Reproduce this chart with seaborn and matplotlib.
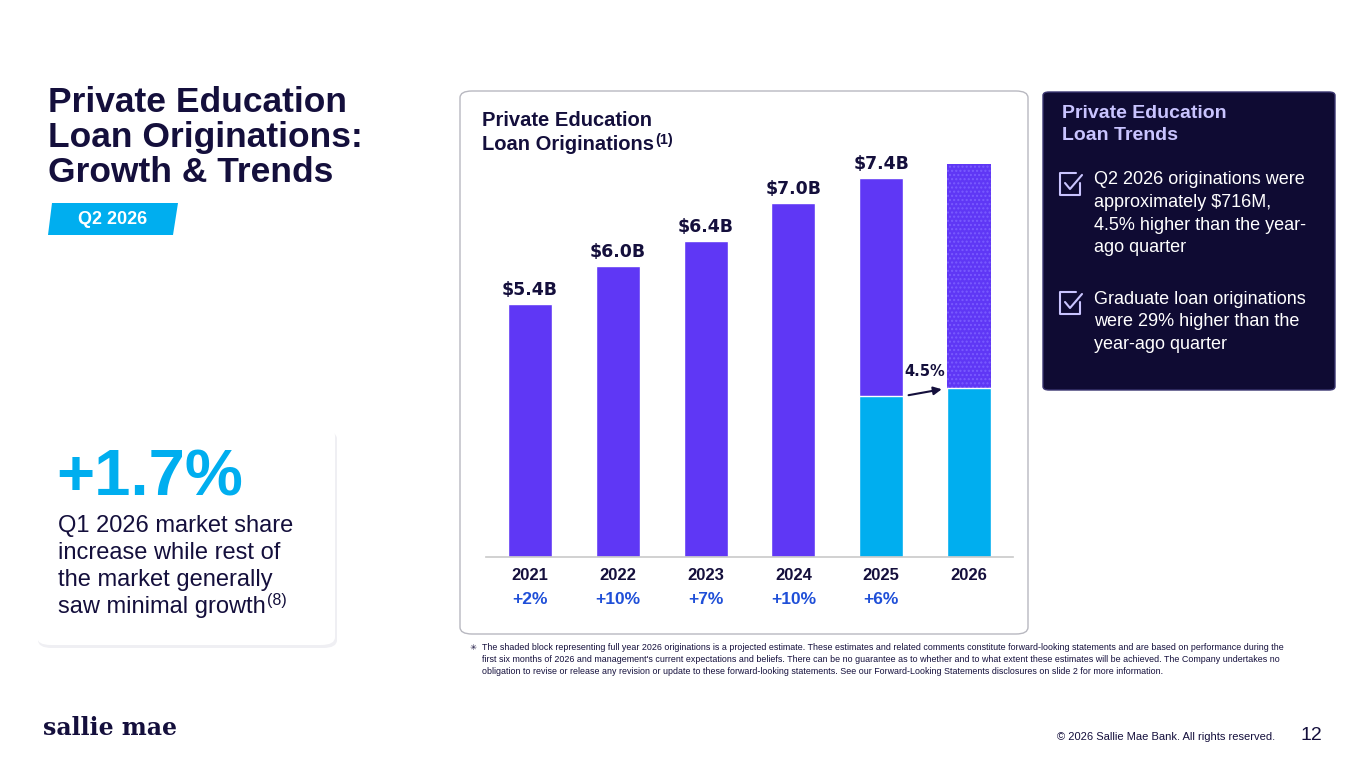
import matplotlib
matplotlib.use("Agg")
import matplotlib.pyplot as plt
from matplotlib.patches import FancyBboxPatch, Polygon
from matplotlib.lines import Line2D
import numpy as np
import pandas as pd
import seaborn as sns

years = ["2021", "2022", "2023", "2024", "2025", "2026"]
totals = [5.4, 6.0, 6.4, 7.0, 7.4, 7.62]
first_half = [np.nan, np.nan, np.nan, np.nan, 3.94, 4.06]
value_labels = ["$5.4B", "$6.0B", "$6.4B", "$7.0B", "$7.4B", ""]
growth_labels = ["+2%", "+10%", "+7%", "+10%", "+6%", ""]

PURPLE = "#5f37f5"
CYAN = "#00aeef"
NAVY = "#140f3c"
BLUE_TXT = "#1f4fd8"

sns.set_theme(style="white")
plt.rcParams["font.family"] = ["Liberation Sans", "DejaVu Sans"]

W, H = 1365, 768
fig = plt.figure(figsize=(W / 100, H / 100), dpi=100)
fig.patch.set_facecolor("white")
renderer = fig.canvas.get_renderer()


def fx(x):
    return x / W


def fy(y):
    return 1 - y / H


def box(x0, y0, x1, y1, fc, ec="none", r=10, z=0, lw=1):
    p = FancyBboxPatch((fx(x0), fy(y1)), fx(x1 - x0), (y1 - y0) / H,
                       boxstyle=f"round,pad=0,rounding_size={r / W}",
                       transform=fig.transFigure, fc=fc, ec=ec, lw=lw, zorder=z)
    fig.add_artist(p)


def lines(x, ycenter, rows, step, sup=None, sup_size=10, **kw):
    # rows of text, centred vertically at pixel rows; optional superscript after last row
    t = None
    for k, row in enumerate(rows):
        t = fig.text(fx(x), fy(ycenter + k * step), row, va="center", zorder=3, **kw)
    if sup:
        bb = t.get_window_extent(renderer)
        fig.text(bb.x1 / W + 0.001, bb.y1 / H - 0.006, sup, fontsize=sup_size,
                 color=kw.get("color"), fontweight=kw.get("fontweight", "normal"),
                 va="center", zorder=3)


# panels
box(38, 431, 337, 648, "#efeff3", r=14, z=0)
box(37, 428, 335, 645, "white", r=14, z=1)
box(460, 91, 1028, 634, "white", ec="#b8b8c0", r=12, z=0)
box(1043, 92, 1335, 390, "#0f0b33", ec="#3a3570", r=6, z=0)

# title
lines(48, 103, ["Private Education", "Loan Originations:", "Growth & Trends"], 35,
      fontsize=25.5, fontweight="bold", color=NAVY)
tag = Polygon([(fx(52), fy(203)), (fx(178), fy(203)), (fx(173), fy(235)), (fx(48), fy(235))],
              closed=True, transform=fig.transFigure, fc=CYAN, ec="none")
fig.add_artist(tag)
fig.text(fx(113), fy(219), "Q2 2026", fontsize=13, fontweight="bold", color="white",
         ha="center", va="center")

# left card
fig.text(fx(56), fy(478), "+1.7%", fontsize=47, fontweight="bold", color=CYAN, va="center", zorder=3)
lines(58, 526, ["Q1 2026 market share", "increase while rest of", "the market generally", "saw minimal growth"],
      27, sup="(8)", sup_size=11.5, fontsize=17, color=NAVY)

# chart
ax = fig.add_axes([fx(486), fy(557), fx(1013 - 486), (557 - 160) / H])
df = pd.DataFrame({"year": years, "total": totals, "h1": first_half})
sns.barplot(data=df, x="year", y="total", color=PURPLE, width=0.5, saturation=1, ax=ax)
sns.barplot(data=df, x="year", y="h1", color=CYAN, width=0.5, saturation=1, ax=ax)
ax.patches[5].set_hatch("....")
ax.patches[5].set_edgecolor("#7a5cff")
ax.patches[5].set_linewidth(0)
ax.set_ylim(1.38, 7.68)
ax.set_xlim(-0.5, 5.5)
ax.set_facecolor("none")
ax.set_xlabel("")
ax.set_ylabel("")
ax.set_yticks([])
ax.set_xticks([])
for s in ["top", "right", "left"]:
    ax.spines[s].set_visible(False)
ax.spines["bottom"].set_color("#cccccc")
for i, (v, lab) in enumerate(zip(totals, value_labels)):
    if lab:
        ax.text(i, v + 0.08, lab, ha="center", va="bottom", fontsize=12.5,
                fontweight="bold", color=NAVY, family="DejaVu Sans")
for i, (y, g) in enumerate(zip(years, growth_labels)):
    ax.text(i, 1.38 - 0.17, y, ha="center", va="top", fontsize=12, fontweight="bold", color=NAVY)
    if g:
        ax.text(i, 1.38 - 0.55, g, ha="center", va="top", fontsize=12.5, fontweight="bold", color=BLUE_TXT)
ax.text(4.5, 4.2, "4.5%", ha="center", va="bottom", fontsize=10.5, fontweight="bold",
        color=NAVY, family="DejaVu Sans")
ax.annotate("", xy=(4.72, 4.05), xytext=(4.28, 3.94),
            arrowprops=dict(arrowstyle="-|>", color=NAVY, lw=1.5))

lines(482, 121, ["Private Education", "Loan Originations"], 24, sup="(1)", sup_size=10.5,
      fontsize=14.5, fontweight="bold", color=NAVY)

# right panel
lines(1062, 114, ["Private Education", "Loan Trends"], 22, fontsize=14, fontweight="bold", color="#c9c4ff")
for ytop, rows in [(180, ["Q2 2026 originations were", "approximately $716M,", "4.5% higher than the year-", "ago quarter"]),
                   (299, ["Graduate loan originations", "were 29% higher than the", "year-ago quarter"])]:
    lines(1094, ytop, rows, 22.5, fontsize=13, color="white")
    x0, y0 = 1060, ytop - 7
    fig.add_artist(Line2D([fx(x0 + 16), fx(x0), fx(x0), fx(x0 + 20), fx(x0 + 20)],
                          [fy(y0), fy(y0), fy(y0 + 22), fy(y0 + 22), fy(y0 + 10)],
                          transform=fig.transFigure, color="#c9c4ff", lw=1.5))
    fig.add_artist(Line2D([fx(x0 + 5), fx(x0 + 10), fx(x0 + 22)],
                          [fy(y0 + 10), fy(y0 + 16), fy(y0 + 2)],
                          transform=fig.transFigure, color="#c9c4ff", lw=1.5))

# footnote
fig.text(fx(470), fy(643), "✳", fontsize=6, color=NAVY, va="top", family="DejaVu Sans")
fig.text(fx(482), fy(643),
         "The shaded block representing full year 2026 originations is a projected estimate. These estimates and related comments constitute forward-looking statements and are based on performance during the\n"
         "first six months of 2026 and management's current expectations and beliefs. There can be no guarantee as to whether and to what extent these estimates will be achieved. The Company undertakes no\n"
         "obligation to revise or release any revision or update to these forward-looking statements. See our Forward-Looking Statements disclosures on slide 2 for more information.",
         fontsize=6.4, color=NAVY, va="top", linespacing=1.45)

# footer
fig.text(fx(43), fy(728), "sallie mae", fontsize=17, fontweight="bold", color=NAVY,
         va="center", family="DejaVu Serif")
fig.text(fx(1275), fy(737), "© 2026 Sallie Mae Bank. All rights reserved.", fontsize=8,
         color=NAVY, ha="right", va="center")
fig.text(fx(1322), fy(735), "12", fontsize=14, color=NAVY, ha="right", va="center")

fig.savefig("out.png", dpi=100)
